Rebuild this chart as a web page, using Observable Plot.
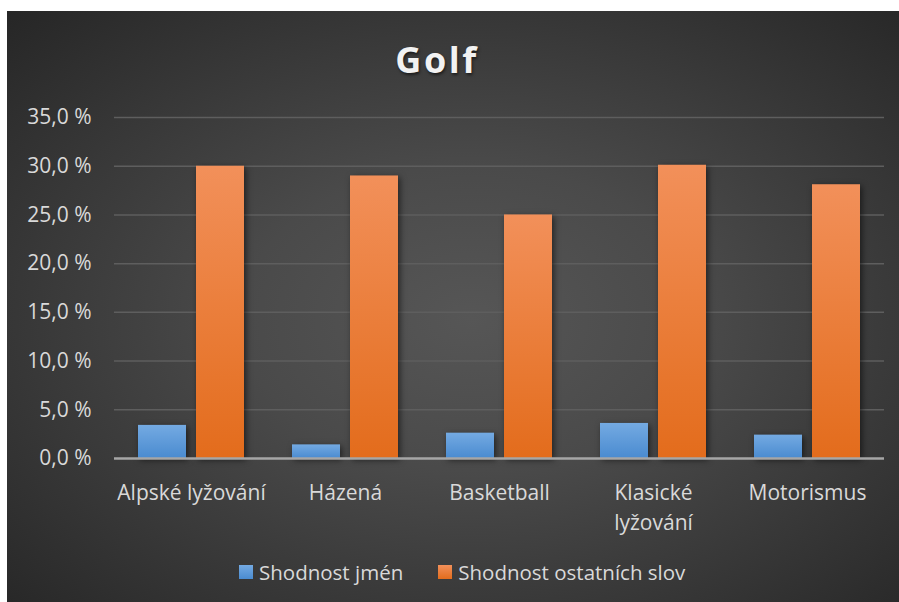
<!DOCTYPE html>
<html>
<head>
<meta charset="utf-8">
<script src="https://cdn.jsdelivr.net/npm/d3@7"></script>
<script src="https://cdn.jsdelivr.net/npm/@observablehq/plot@0.6"></script>
<style>
  html, body { margin: 0; padding: 0; background: #ffffff; }
  #wrap {
    position: absolute; left: 7px; top: 11px; width: 892px; height: 591px;
    background: radial-gradient(ellipse farthest-corner at 52% 52%, #565656 0%, #4a4a4a 35%, #262626 100%);
    overflow: hidden;
    font-family: "Open Sans", sans-serif;
  }
  #title {
    position: absolute; left: 0; width: 860px; top: 29px; height: 40px; line-height: 40px;
    text-align: center; font-size: 36px; font-weight: 700; letter-spacing: 2.5px;
    color: #f2f2f2; text-shadow: 1px 2px 3px rgba(0,0,0,0.55);
  }
  #chart { position: absolute; left: 0; top: 90px; }
  #legend {
    position: absolute; left: 232px; top: 547px; height: 28px; line-height: 28px;
    display: flex; align-items: center; font-size: 20.5px; color: #d9d9d9; white-space: nowrap;
  }
  #legend .sw { display: inline-block; width: 14px; height: 14px; margin-right: 6px; }
  #legend .item { display: flex; align-items: center; margin-right: 35px; }
  svg g[aria-label="bar"] rect { filter: drop-shadow(2px 2px 3px rgba(0,0,0,0.55)); }
</style>
</head>
<body>
<div id="wrap">
  <div id="title">Golf</div>
  <div id="chart"></div>
  <div id="legend"></div>
</div>
<script>
const titleText = "Golf";
const categories = ["Alpské lyžování", "Házená", "Basketball", "Klasické lyžování", "Motorismus"];
const categoryLabels = ["Alpské lyžování", "Házená", "Basketball", "Klasické\nlyžování", "Motorismus"];
const seriesNames = ["Shodnost jmén", "Shodnost ostatních slov"];
const shodnostJmen = [3.4, 1.4, 2.6, 3.6, 2.4];
const shodnostOstatnich = [30.0, 29.0, 25.0, 30.1, 28.1];
const yTicks = [0, 5, 10, 15, 20, 25, 30, 35];

const seriesValues = [shodnostJmen, shodnostOstatnich];
const gradIds = ["gBlue", "gOrange"];
const data = [];
seriesNames.forEach((s, si) => {
  categories.forEach((c, ci) => data.push({category: c, series: s, value: seriesValues[si][ci]}));
});

const fmt = d => d.toFixed(1).replace(".", ",") + "\u00a0%";
const labelOf = c => categoryLabels[categories.indexOf(c)];

const chart = Plot.plot({
  width: 892,
  height: 445,
  marginLeft: 106,
  marginRight: 14,
  marginTop: 16,
  marginBottom: 88,
  style: {background: "transparent", color: "#d9d9d9", fontFamily: "'Open Sans', sans-serif", fontSize: "21px"},
  fx: {domain: categories, padding: 0, label: null, axis: null},
  x: {domain: seriesNames, paddingInner: 0.171, paddingOuter: 0.405, axis: null},
  y: {domain: [0, 35], axis: null},
  marks: [
    Plot.ruleY(yTicks.filter(d => d > 0), {stroke: "#5e5e5e", strokeWidth: 1.5}),
    ...seriesNames.map((s, si) =>
      Plot.barY(data.filter(d => d.series === s), {fx: "category", x: "series", y: "value", fill: `url(#${gradIds[si]})`})
    ),
    Plot.ruleY([0], {stroke: "#a6a6a6", strokeWidth: 2.5}),
    Plot.axisY({ticks: yTicks, tickSize: 0, tickPadding: 23, tickFormat: fmt, fill: "#d9d9d9", label: null}),
    Plot.axisFx({anchor: "bottom", tickSize: 0, tickPadding: 20, tickFormat: labelOf, lineHeight: 1.43, fill: "#d9d9d9", label: null})
  ]
});

const defs = d3.select(chart).insert("defs", ":first-child");
const gradStops = {
  gBlue: ["#74aae2", "#4a8bd0"],
  gOrange: ["#f2905a", "#e36c1c"]
};
Object.entries(gradStops).forEach(([id, [c0, c1]]) => {
  const g = defs.append("linearGradient").attr("id", id).attr("x1", 0).attr("y1", 0).attr("x2", 0).attr("y2", 1);
  g.append("stop").attr("offset", "0%").attr("stop-color", c0);
  g.append("stop").attr("offset", "100%").attr("stop-color", c1);
});

document.getElementById("chart").appendChild(chart);
document.getElementById("title").textContent = titleText;

const legend = document.getElementById("legend");
const swatchFill = ["linear-gradient(#74aae2, #4a8bd0)", "linear-gradient(#f2905a, #e36c1c)"];
seriesNames.forEach((s, i) => {
  const item = document.createElement("span");
  item.className = "item";
  const sw = document.createElement("span");
  sw.className = "sw";
  sw.style.background = swatchFill[i];
  const t = document.createElement("span");
  t.textContent = s;
  item.appendChild(sw);
  item.appendChild(t);
  legend.appendChild(item);
});
</script>
</body>
</html>
